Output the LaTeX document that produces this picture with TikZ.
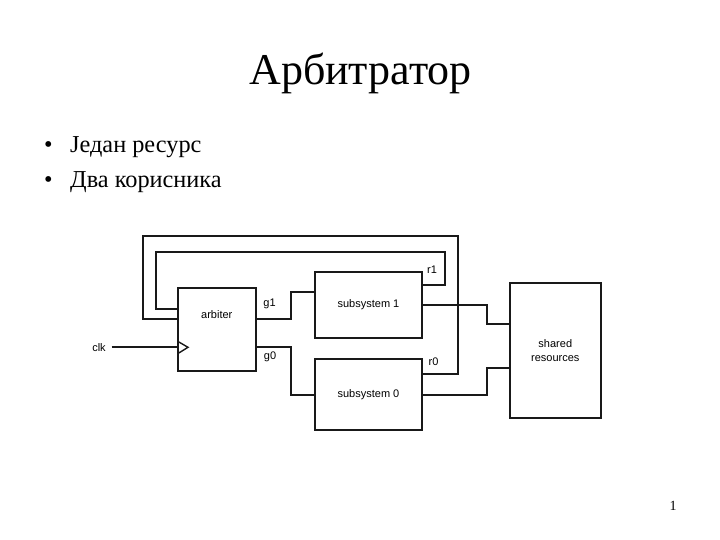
\documentclass[tikz,border=0pt]{standalone}
\usepackage{fontspec}
\setmainfont{Liberation Serif}
\newfontfamily\diagfont{Liberation Sans}
\tikzset{
  block/.style={draw=black!90,line width=1.9pt,inner sep=0pt,font=\diagfont\fontsize{11}{13}\selectfont,align=center,text=black},
  wire/.style={draw=black!90,line width=1.8pt},
  sig/.style={inner sep=0pt,font=\diagfont\fontsize{11}{13}\selectfont,text=black},
  bullettext/.style={inner sep=0pt,anchor=base west,font=\fontsize{24.3}{28}\selectfont},
}
\begin{document}
\begin{tikzpicture}[x=1pt,y=-1pt]
\useasboundingbox (0,0) rectangle (720,540);
\node[inner sep=0pt,anchor=base,font=\fontsize{44}{48}\selectfont] (title) at (360.5,85) {Арбитратор};
\node[bullettext] (b1m) at (44,153) {•};
\node[bullettext] (b1) at (70,153) {Један ресурс};
\node[bullettext] (b2m) at (44,187.5) {•};
\node[bullettext] (b2) at (70,187.5) {Два корисника};
\node[inner sep=0pt,anchor=base,font=\fontsize{14}{16}\selectfont] (page) at (673,510) {1};

\node[block,minimum width=77.7pt,minimum height=82.4pt] (arb) at (216.8,329.5) {};
\node[sig] (arbl) at (216.8,315) {arbiter};
\node[block,minimum width=107.6pt,minimum height=66.6pt] (s1) at (368.5,305) {subsystem 1};
\node[block,minimum width=107.6pt,minimum height=70.7pt] (s0) at (368.5,394.7) {subsystem 0};
\node[block,minimum width=90.7pt,minimum height=135pt] (sh) at (555.3,350.8) {shared\\[1pt]resources};

\node[sig] (clk) at (99,347.5) {clk};
\node[sig] (g1) at (269.5,304) {g1};
\node[sig] (g0) at (270,357) {g0};
\node[sig] (r1) at (432,270) {r1};
\node[sig] (r0) at (433.5,362) {r0};

\coordinate (clkin) at (178,347.3);
\coordinate (clks) at (111.7,347.3);
\draw[wire] (clks) -- (clkin);
\draw[wire,line width=1.4pt] (178,341.5) -- (188,347.3) -- (178,353.5);

\draw[wire] (s1.east |- 0,285.3) -| (445.3,252.3) -| (155.7,308.7) -- (arb.west |- 0,308.7);
\draw[wire] (s0.east |- 0,373.7) -| (457.7,236) -| (142.7,319.3) -- (arb.west |- 0,319.3);
\draw[wire] (arb.east |- 0,319.3) -| (290.7,291.7) -- (s1.west |- 0,291.7);
\draw[wire] (arb.east |- 0,347.3) -| (290.7,394.7) -- (s0.west |- 0,394.7);
\draw[wire] (s1.east |- 0,305) -| (486.7,324.3) -- (sh.west |- 0,324.3);
\draw[wire] (s0.east |- 0,395) -| (486.7,368.3) -- (sh.west |- 0,368.3);
\end{tikzpicture}
\end{document}
